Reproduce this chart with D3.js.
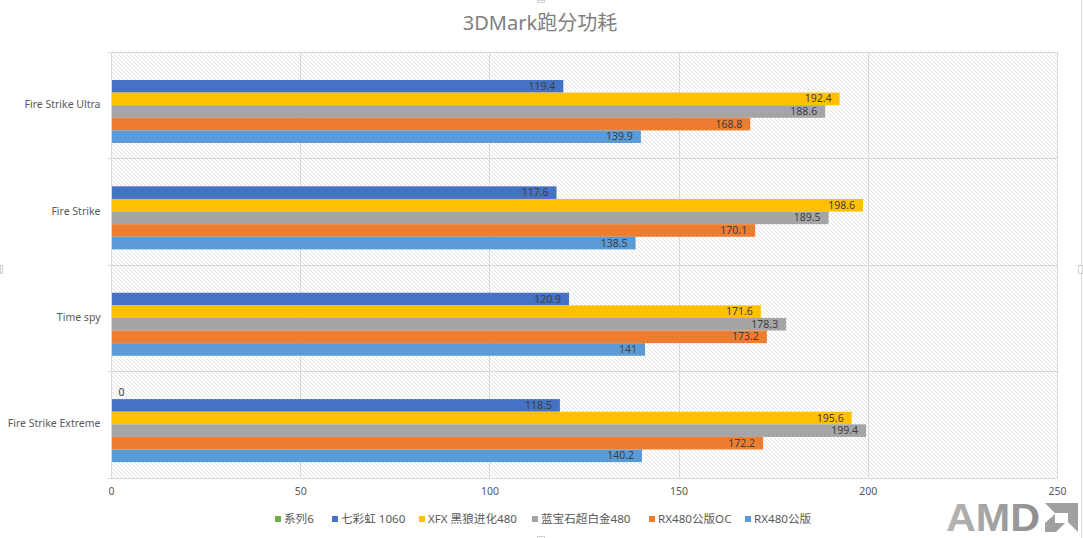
<!DOCTYPE html>
<html>
<head>
<meta charset="utf-8">
<script src="https://cdn.jsdelivr.net/npm/d3@7"></script>
<style>
  html, body { margin: 0; padding: 0; background: #fff; }
  text { font-family: "Noto Sans", "Noto Sans CJK SC", sans-serif; }
</style>
</head>
<body>
<div id="chart"></div>
<script>
var categories = ["Fire Strike Ultra", "Fire Strike", "Time spy", "Fire Strike Extreme"];
var series_names = ["系列6", "七彩虹 1060", "XFX 黑狼进化480", "蓝宝石超白金480", "RX480公版OC", "RX480公版"];
var series_colors = ["#70ad47", "#4472c4", "#ffc000", "#a5a5a5", "#ed7d31", "#5b9bd5"];
var series6 = [null, null, null, 0];
var colorful1060 = [119.4, 117.6, 120.9, 118.5];
var xfx480 = [192.4, 198.6, 171.6, 195.6];
var sapphire480 = [188.6, 189.5, 178.3, 199.4];
var rx480oc = [168.8, 170.1, 173.2, 172.2];
var rx480 = [139.9, 138.5, 141, 140.2];
var x_ticks = [0, 50, 100, 150, 200, 250];

var series_values = [series6, colorful1060, xfx480, sapphire480, rx480oc, rx480];

var width = 1083, height = 538;
var plot = {left: 111.5, right: 1057.5, top: 52, bottom: 477.5};

var svg = d3.select("#chart").append("svg")
    .attr("width", width)
    .attr("height", height)
    .style("display", "block");

// excel style light diagonal fill
var pattern = svg.append("defs").append("pattern")
    .attr("id", "hatch")
    .attr("width", 4)
    .attr("height", 4)
    .attr("patternUnits", "userSpaceOnUse");
pattern.append("path")
    .attr("d", "M-1,-1L5,5M-1,3L1,5M3,-1L5,1")
    .attr("stroke", "#dedede")
    .attr("stroke-width", 0.9);

var x = d3.scaleLinear().domain([0, 250]).range([plot.left, plot.right]);
var y = d3.scaleBand().domain(categories).range([plot.top, plot.bottom]);
var y_inner = d3.scaleBand().domain(d3.range(series_names.length))
    .range([0, y.bandwidth()]).paddingOuter(1.22);

// plot background
svg.append("rect")
    .attr("x", plot.left)
    .attr("y", plot.top)
    .attr("width", plot.right - plot.left)
    .attr("height", plot.bottom - plot.top)
    .attr("fill", "url(#hatch)");

// gridlines
svg.selectAll(".vgrid").data(x_ticks).enter().append("line")
    .attr("class", "vgrid")
    .attr("x1", function (d) { return Math.floor(x(d)) + 0.5; })
    .attr("x2", function (d) { return Math.floor(x(d)) + 0.5; })
    .attr("y1", plot.top)
    .attr("y2", plot.bottom)
    .attr("stroke", "#d9d9d9");

var hlines = categories.map(function (d) { return y(d); }).concat([plot.bottom]);
svg.selectAll(".hgrid").data(hlines).enter().append("line")
    .attr("class", "hgrid")
    .attr("x1", plot.left - 4)
    .attr("x2", plot.right)
    .attr("y1", function (d) { return Math.round(d) + 0.5; })
    .attr("y2", function (d) { return Math.round(d) + 0.5; })
    .attr("stroke", "#d9d9d9");

// bars
series_values.forEach(function (values, s) {
    var group = svg.append("g");
    values.forEach(function (v, c) {
        if (v === null) return;
        var yy = y(categories[c]) + y_inner(s);
        group.append("rect")
            .attr("x", x(0) + 0.5)
            .attr("y", yy)
            .attr("width", x(v) - x(0) - 0.5)
            .attr("height", y_inner.bandwidth())
            .attr("fill", series_colors[s]);
        group.append("text")
            .attr("x", v === 0 ? x(0) + 7 : x(v) - 8)
            .attr("y", yy + y_inner.bandwidth() / 2 + 3.5)
            .attr("text-anchor", v === 0 ? "start" : "end")
            .attr("font-size", 10.5)
            .attr("fill", "#404040")
            .text(v);
    });
});

// axis labels
svg.selectAll(".xlabel").data(x_ticks).enter().append("text")
    .attr("class", "xlabel")
    .attr("x", function (d) { return x(d); })
    .attr("y", 495)
    .attr("text-anchor", "middle")
    .attr("font-size", 10.5)
    .attr("fill", "#595959")
    .text(function (d) { return d; });

svg.selectAll(".ylabel").data(categories).enter().append("text")
    .attr("class", "ylabel")
    .attr("x", 100.5)
    .attr("y", function (d) { return y(d) + y.bandwidth() / 2 + 3; })
    .attr("text-anchor", "end")
    .attr("font-size", 10.5)
    .attr("fill", "#595959")
    .text(function (d) { return d; });

// title
svg.append("text")
    .attr("x", 540)
    .attr("y", 30)
    .attr("text-anchor", "middle")
    .attr("font-size", 20)
    .attr("fill", "#7f7f7f")
    .text("3DMark跑分功耗");

// legend
var legend_x = [275, 332, 419, 532, 649, 745];
series_names.forEach(function (name, s) {
    svg.append("rect")
        .attr("x", legend_x[s])
        .attr("y", 516)
        .attr("width", 6)
        .attr("height", 6)
        .attr("fill", series_colors[s]);
    svg.append("text")
        .attr("x", legend_x[s] + 9)
        .attr("y", 523)
        .attr("font-size", 11.6)
        .attr("fill", "#595959")
        .text(name);
});

// chart frame and selection handles left over in the screenshot
svg.append("line")
    .attr("x1", 1081.5).attr("x2", 1081.5)
    .attr("y1", 0).attr("y2", height)
    .attr("stroke", "#d9d9d9");
[[0, 265, 2, 8], [1078, 265, 4, 8], [537, 0, 7, 2], [537, 536, 7, 2]].forEach(function (h) {
    svg.append("rect")
        .attr("x", h[0] + 0.5).attr("y", h[1] + 0.5)
        .attr("width", h[2]).attr("height", h[3])
        .attr("fill", "#fff")
        .attr("stroke", "#d0d0d0");
});

// logo
var grad = svg.select("defs").append("linearGradient").attr("id", "logo_grad")
    .attr("x1", 0).attr("x2", 1).attr("y1", 0).attr("y2", 0);
grad.append("stop").attr("offset", 0).attr("stop-color", "#b5b5b5");
grad.append("stop").attr("offset", 1).attr("stop-color", "#8e8e8e");
svg.append("text")
    .attr("x", 946)
    .attr("y", 531)
    .attr("font-size", 38)
    .attr("font-weight", 700)
    .attr("textLength", 94)
    .attr("lengthAdjust", "spacingAndGlyphs")
    .attr("fill", "url(#logo_grad)")
    .style("font-family", "Liberation Sans")
    .text("AMD");
svg.append("path")
    .attr("d", "M1045,503H1078V532L1068,522V513H1055ZM1055,514V523H1065L1056,532H1045V523Z")
    .attr("fill", "#a0a0a0");
</script>
</body>
</html>
